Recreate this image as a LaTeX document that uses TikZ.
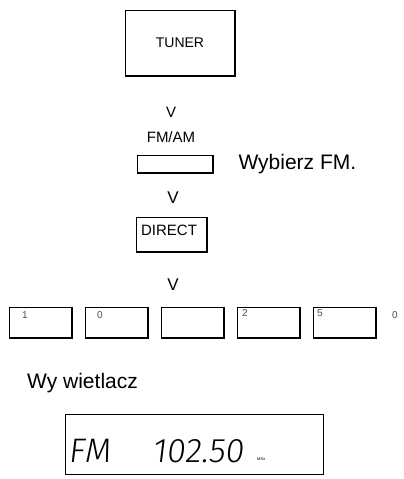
\documentclass[tikz,border=0pt]{standalone}
\usepackage{fontspec}
\setmainfont{Liberation Sans}
\newfontfamily\lcdfont[FakeSlant=0.12]{Fira Sans Light}
\usetikzlibrary{positioning}

\begin{document}
\begin{tikzpicture}[
  x=1pt,y=-1pt,
  key/.style={draw,line width=0.7pt,inner sep=0pt,
    path picture={\draw[line width=2.6pt] (path picture bounding box.north east)
      -- (path picture bounding box.south east) -- (path picture bounding box.south west);}},
  numkey/.style={key,minimum width=63pt,minimum height=31pt},
  lbl/.style={inner sep=0pt,font=\fontsize{15}{15}\selectfont},
  vmark/.style={inner sep=0pt,font=\fontsize{17}{17}\selectfont},
  digit/.style={inner sep=0pt,text=black!70,font=\fontsize{10}{10}\selectfont},
  big/.style={inner sep=0pt,anchor=west,font=\fontsize{21}{21}\selectfont},
  lcd/.style={inner sep=0pt,anchor=south west,font=\lcdfont\fontsize{34}{34}\selectfont}
]
\useasboundingbox (0,0) rectangle (404,479);
% step 1: tuner, band, direct entry
\node[key,minimum width=110pt,minimum height=66pt,font=\fontsize{14}{14}\selectfont] (tuner) at (180,43) {TUNER};
\node[vmark,font=\fontsize{15}{15}\selectfont] (v1) at (171,112) {V};
\node[lbl] (bandlbl) at (171,137.5) {FM/AM};
\node[key,minimum width=76pt,minimum height=18pt] (band) at (175,164) {};
\node[big,right=25pt of band] (pick) {Wybierz FM.};
\node[vmark] (v2) at (173,197.5) {V};
\node[key,minimum width=71pt,minimum height=35pt] (direct) at (171.5,234.5) {};
\node[lbl] (directlbl) at (169,230) {DIRECT};
\node[vmark] (v3) at (173,284.5) {V};
% step 2: number keys
\node[numkey] (k1) at (40.5,322.5) {};
\node[numkey] (k2) at (117,322.5) {};
\node[numkey] (k3) at (192.5,322.5) {};
\node[numkey] (k4) at (269,322.5) {};
\node[numkey] (k5) at (345,322.5) {};
\node[digit] (d1) at (25,315) {1};
\node[digit] (d2) at (100,315) {0};
\node[digit] (d4) at (245,313) {2};
\node[digit] (d5) at (320,313) {5};
\node[digit] (d6) at (395,315) {0};
% step 3: display
\node[big] (disptitle) at (27,383) {Wy wietlacz};
\node[draw,line width=0.8pt,minimum width=258pt,minimum height=60pt] (display) at (194,444) {};
\node[lcd] (band2) at (68,463) {FM};
\node[lcd] (freq) at (152,463) {102.50};
\node[inner sep=0pt,anchor=south west,font=\fontsize{4}{4}\selectfont] (unit) at (257,461) {MHz};
\end{tikzpicture}
\end{document}
